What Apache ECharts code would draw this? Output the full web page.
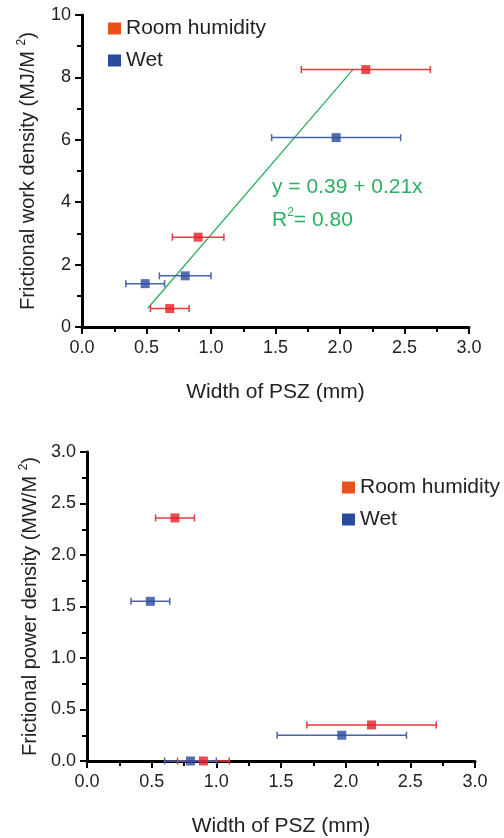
<!DOCTYPE html>
<html>
<head>
<meta charset="utf-8">
<script src="https://cdn.jsdelivr.net/npm/echarts@6/dist/echarts.min.js"></script>
<style>
html,body{margin:0;padding:0;background:#fff;}
#c{width:504px;height:838px;}
</style>
</head>
<body>
<div id="c"></div>
<script>
// ---- data ----
const seriesNames = ['Room humidity', 'Wet'];
// top panel: frictional work density
const workRhX = [2.2, 0.9, 0.68];
const workRhY = [8.25, 2.88, 0.59];
const workRhErr = [0.5, 0.2, 0.15];
const workWetX = [1.97, 0.8, 0.49];
const workWetY = [6.07, 1.64, 1.39];
const workWetErr = [0.5, 0.2, 0.15];
const fitX = [0.51, 2.1];
const fitY = [0.6, 8.25];
const fitText = ['y = 0.39 + 0.21x', '0.80'];
// bottom panel: frictional power density
const powRhX = [0.68, 2.2, 0.9];
const powRhY = [2.36, 0.35, 0];
const powRhErr = [0.15, 0.5, 0.2];
const powWetX = [0.49, 1.97, 0.8];
const powWetY = [1.55, 0.25, 0];
const powWetErr = [0.15, 0.5, 0.2];
// axes: [min, max, interval]
const xTicks = [0, 3, 0.5];
const workTicks = [0, 10, 2];
const powTicks = [0, 3, 0.5];

const FONT = 'Liberation Sans, Arial, sans-serif';
const RED = '#e31e24', RED_BAR = '#e53a3e', RED_LEG = '#e8501c';
const BLUE = '#2a4a9b', BLUE_BAR = '#4863a8', BLUE_LEG = '#2a4a9e';
const GREEN = '#2fae62';

function errData(xs, ys, es) {
  return xs.map((x, i) => [x, ys[i], x - es[i], x + es[i]]);
}
function pts(xs, ys) { return xs.map((x, i) => [x, ys[i]]); }

function errSeries(name, idx, xs, ys, es, color) {
  return {
    name: name, type: 'custom', xAxisIndex: idx, yAxisIndex: idx, clip: false, z: 3,
    itemStyle: {color: color},
    renderItem: function (params, api) {
      const y = api.value(1);
      const p1 = api.coord([api.value(2), y]);
      const p2 = api.coord([api.value(3), y]);
      const h = 3.5;
      const st = {stroke: color, lineWidth: 1.5};
      return {type: 'group', children: [
        {type: 'line', shape: {x1: p1[0], y1: p1[1], x2: p2[0], y2: p2[1]}, style: st},
        {type: 'line', shape: {x1: p1[0], y1: p1[1] - h, x2: p1[0], y2: p1[1] + h}, style: st},
        {type: 'line', shape: {x1: p2[0], y1: p2[1] - h, x2: p2[0], y2: p2[1] + h}, style: st}
      ]};
    },
    data: errData(xs, ys, es)
  };
}
function ptSeries(name, idx, xs, ys, color) {
  return {
    name: name, type: 'scatter', xAxisIndex: idx, yAxisIndex: idx, clip: false, z: 4,
    symbol: 'rect', symbolSize: 9, itemStyle: {color: color},
    data: pts(xs, ys)
  };
}

function axisParts() {
  return {
    axisLine: {show: true, onZero: false, lineStyle: {color: '#000', width: 3}},
    axisTick: {show: true, length: 7, lineStyle: {color: '#000', width: 2}},
    minorTick: {show: true, splitNumber: 2, length: 5, lineStyle: {color: '#000', width: 2}},
    splitLine: {show: false}
  };
}
const labelBase = {color: '#222', fontSize: 18, fontFamily: FONT};

function xAxis(idx) {
  return Object.assign(axisParts(), {
    type: 'value', gridIndex: idx, min: xTicks[0], max: xTicks[1], interval: xTicks[2],
    axisLabel: Object.assign({}, labelBase, {margin: 12, formatter: v => v.toFixed(1)}),
    name: 'Width of PSZ (mm)', nameLocation: 'middle', nameGap: 55,
    nameTextStyle: {color: '#222', fontSize: 21, fontFamily: FONT}
  });
}
function yAxis(idx, t, label, fmt) {
  return Object.assign(axisParts(), {
    type: 'value', gridIndex: idx, min: t[0], max: t[1], interval: t[2],
    axisLabel: Object.assign({}, labelBase, {margin: 11, formatter: fmt}),
    name: label, nameLocation: 'middle', nameGap: 42, nameRotate: 90,
    nameTextStyle: {color: '#222', fontSize: 20, fontFamily: FONT,
      rich: {s: {fontSize: 12, fontFamily: FONT, color: '#222', padding: [0, 0, 12, 0]}}}
  });
}

const legendText = {color: '#222', fontSize: 21, fontFamily: FONT, lineHeight: 21};
function legend(left, top) {
  return {
    left: left, top: top, orient: 'vertical', icon: 'rect', itemWidth: 13, itemHeight: 12,
    itemGap: 11, textStyle: legendText, selectedMode: false,
    data: [
      {name: seriesNames[0], itemStyle: {color: RED_LEG}},
      {name: seriesNames[1], itemStyle: {color: BLUE_LEG}}
    ]
  };
}

const option = {
  animation: false,
  backgroundColor: '#fff',
  grid: [
    {left: 82, right: 35, top: 15, height: 312},
    {left: 87, right: 29, top: 452, height: 312}
  ],
  legend: [legend(103, 13), legend(337, 472)],
  xAxis: [xAxis(0), xAxis(1)],
  yAxis: [
    yAxis(0, workTicks, 'Frictional work density (MJ/M {s|2})', v => String(v)),
    yAxis(1, powTicks, 'Frictional power density (MW/M {s|2})', v => v.toFixed(1))
  ],
  graphic: [
    {type: 'text', left: 272, top: 177, style: {text: fitText[0], fill: GREEN, fontSize: 21, fontFamily: FONT}},
    {type: 'text', left: 272, top: 207, style: {
      text: 'R{s|2}= ' + fitText[1], fill: GREEN, fontSize: 21, fontFamily: FONT,
      rich: {s: {fontSize: 12, fill: GREEN, fontFamily: FONT, padding: [0, 0, 14, 0]}}}}
  ],
  series: [
    {
      name: 'fit', type: 'line', xAxisIndex: 0, yAxisIndex: 0, symbol: 'none', z: 2,
      lineStyle: {color: GREEN, width: 1.3}, data: pts(fitX, fitY)
    },
    errSeries(seriesNames[0], 0, workRhX, workRhY, workRhErr, RED_BAR),
    errSeries(seriesNames[1], 0, workWetX, workWetY, workWetErr, BLUE_BAR),
    ptSeries(seriesNames[0], 0, workRhX, workRhY, RED),
    ptSeries(seriesNames[1], 0, workWetX, workWetY, BLUE),
    errSeries(seriesNames[0], 1, powRhX, powRhY, powRhErr, RED_BAR),
    errSeries(seriesNames[1], 1, powWetX, powWetY, powWetErr, BLUE_BAR),
    ptSeries(seriesNames[0], 1, powRhX, powRhY, RED),
    ptSeries(seriesNames[1], 1, powWetX, powWetY, BLUE)
  ]
};
const chart = echarts.init(document.getElementById('c'), null, {renderer: 'canvas'});
chart.setOption(option);
</script>
</body>
</html>
